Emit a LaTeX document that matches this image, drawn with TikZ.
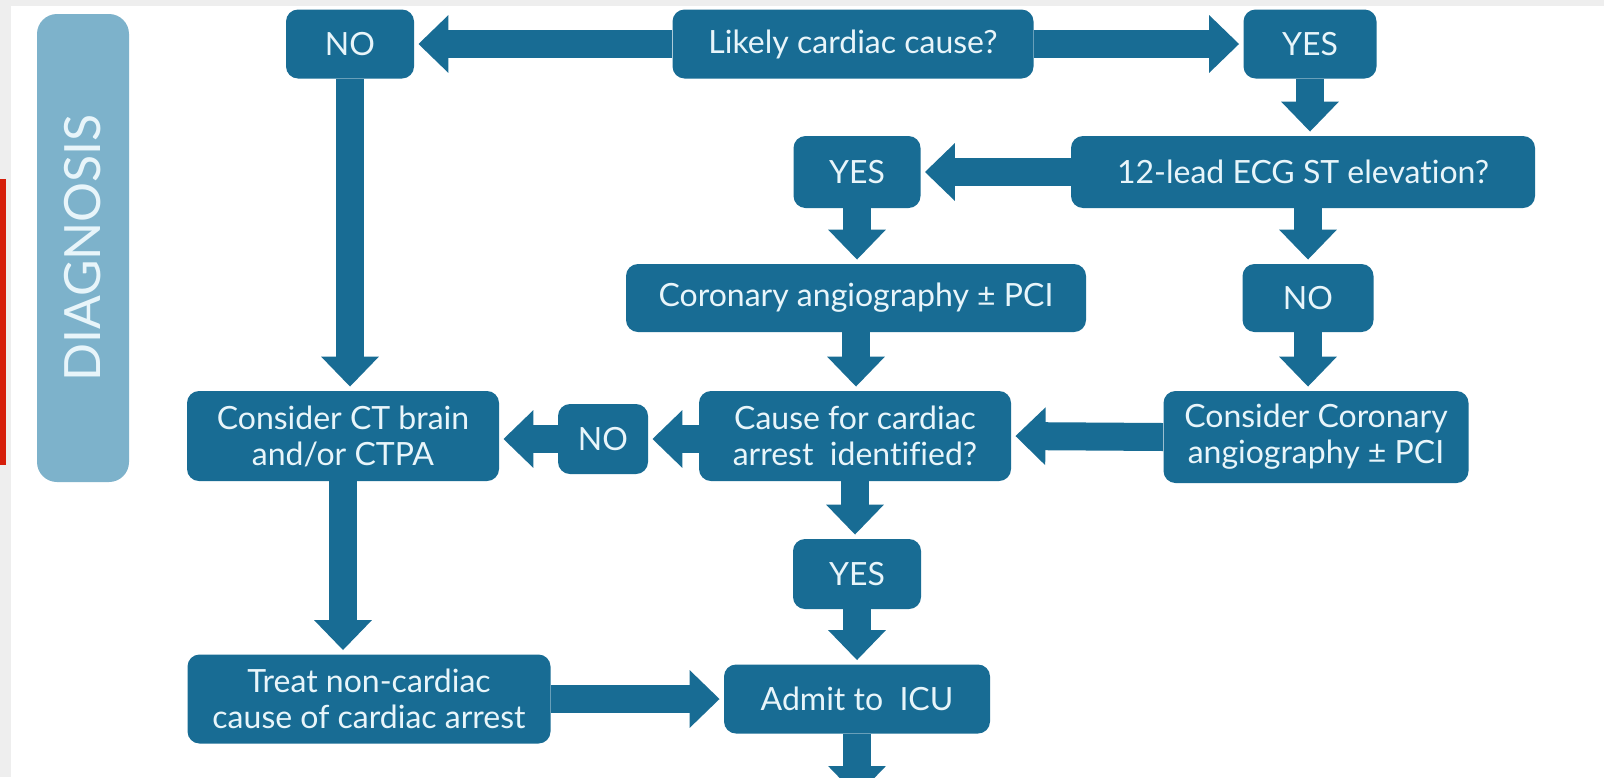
\documentclass[tikz,border=0pt]{standalone}
\usepackage{fontspec}
\setmainfont{Lato}[Ligatures=NoCommon]
\usetikzlibrary{arrows.meta}
\definecolor{boxblue}{RGB}{24,108,148}
\definecolor{diagblue}{RGB}{125,178,203}
\definecolor{txtwhite}{RGB}{232,245,250}
\definecolor{bggray}{RGB}{238,238,238}
\definecolor{redbar}{RGB}{214,30,10}
\tikzset{
  box/.style={rectangle, rounded corners=6pt, fill=boxblue, text=txtwhite,
    font=\fontsize{16}{18}\selectfont, align=center, inner sep=0pt},
  barrow/.style={draw=boxblue, line width=14pt,
    -{Triangle[width=28pt,length=15pt]}, shorten >=2pt},
}
\begin{document}
\begin{tikzpicture}[x=0.5pt,y=-0.5pt]
\useasboundingbox (0,0) rectangle (1604,777);
\clip (0,0) rectangle (1604,777);
\fill[white] (0,0) rectangle (1604,777);
\fill[bggray] (0,0) rectangle (1604,6);
\fill[bggray] (0,0) rectangle (11,777);
\fill[redbar] (0,179) rectangle (6,465);
\node[rectangle, rounded corners=10pt, fill=diagblue, minimum width=46pt, minimum height=234pt, inner sep=0pt] (diag) at (83,248) {};
\node[rotate=90, text=txtwhite, font=\fontsize{25}{29}\selectfont] (diagtxt) at (diag.center) {DIAGNOSIS};

\node[box, minimum width=64pt, minimum height=34.5pt] (no1) at (350,44) {NO};
\node[box, minimum width=180.5pt, minimum height=34.5pt] (likely) at (853,44) {Likely cardiac cause?};
\node[box, minimum width=66.5pt, minimum height=34.5pt] (yes1) at (1310,44) {YES};
\node[box, minimum width=232pt, minimum height=36pt] (ecg) at (1303,172) {12-lead ECG ST elevation?};
\node[box, minimum width=63.5pt, minimum height=36pt] (yes2) at (857,172) {YES};
\node[box, minimum width=230pt, minimum height=34pt] (cor) at (856,298) {Coronary angiography ± PCI};
\node[box, minimum width=65.5pt, minimum height=34pt] (no2) at (1308,298) {NO};
\node[box, minimum width=152.5pt, minimum height=46pt] (conscor) at (1316,437) {Consider Coronary\\angiography ± PCI};
\node[box, minimum width=156pt, minimum height=45pt] (cause) at (855,436) {Cause for cardiac\\arrest\ \ identified?};
\node[box, minimum width=45pt, minimum height=35pt] (no3) at (603,439) {NO};
\node[box, minimum width=156pt, minimum height=45pt] (consct) at (343,436) {Consider CT brain\\and/or CTPA};
\node[box, minimum width=64pt, minimum height=35pt] (yes3) at (857,574) {YES};
\node[box, minimum width=181.5pt, minimum height=44.5pt] (treat) at (369,699) {Treat non-cardiac\\cause of cardiac arrest};
\node[box, minimum width=133pt, minimum height=34.5pt] (admit) at (857,699) {Admit to\ \ ICU};
\coordinate (endpt) at (857,800);

\draw[barrow] (likely.west) -- (no1.east);
\draw[barrow] (likely.east) -- (yes1.west);
\draw[barrow] (yes1.south) -- (yes1.south |- ecg.north);
\draw[barrow] (ecg.west) -- (yes2.east);
\draw[barrow] (yes2.south) -- (yes2.south |- cor.north);
\draw[barrow] (ecg.south -| no2) -- (no2.north);
\draw[barrow] (no2.south) -- (no2.south |- conscor.north);
\draw[barrow] (conscor.west) -- (cause.east);
\draw[barrow] (cor.south) -- (cor.south |- cause.north);
\draw[barrow] (cause.west |- no3) -- (no3.east);
\draw[barrow] (no3.west) -- (no3.west -| consct.east);
\draw[barrow] (no1.south) -- (no1.south |- consct.north);
\draw[barrow] (consct.south) -- (consct.south |- treat.north);
\draw[barrow] (cause.south) -- (cause.south |- yes3.north);
\draw[barrow] (yes3.south) -- (yes3.south |- admit.north);
\draw[barrow] (treat.east |- admit) -- (admit.west);
\draw[barrow] (admit.south) -- (endpt);
\end{tikzpicture}
\end{document}
